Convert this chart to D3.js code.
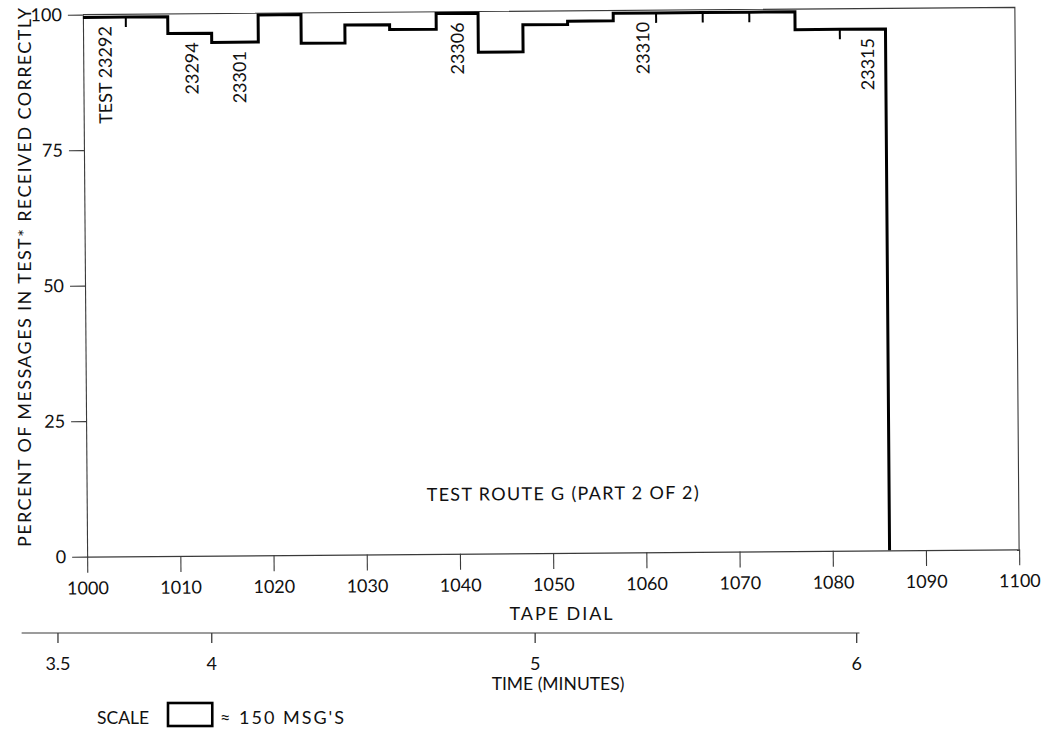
<!DOCTYPE html>
<html>
<head>
<meta charset="utf-8">
<script src="https://cdn.jsdelivr.net/npm/d3@7/dist/d3.min.js"></script>
<style>
  html, body { margin: 0; padding: 0; background: #fff; }
  svg { display: block; }
  text { font-family: Lato, "Open Sans", sans-serif; fill: #111; }
</style>
</head>
<body>
<svg id="chart" width="1046" height="730"></svg>
<script>
// Tape-dial reading where each test block starts, and where the last one ends
const tapeStart = [1000, 1004.6, 1009.1, 1013.8, 1018.8, 1023.4, 1028.1, 1032.9, 1037.9,
                   1042.4, 1047.2, 1052.0, 1056.9, 1061.5, 1066.5, 1071.5, 1076.4, 1081.2];
const tapeEnd = 1086.1;
// Percent of messages in each test block received correctly
const percentCorrect = [99.5, 99.5, 96.4, 94.7, 99.7, 94.4, 97.7, 96.8, 99.7,
                        92.5, 97.5, 98.1, 99.5, 99.5, 99.5, 99.5, 96.2, 96.2];
// Test numbers written above selected blocks
const testLabels = ["TEST 23292", "23294", "23301", "23306", "23310", "23315"];
const testLabelBlock = [0, 2, 3, 8, 12, 17];
const testLabelTape = [1002.3, 1011.6, 1016.7, 1040.1, 1060.0, 1084.1];
// Axis ticks
const percentTicks = [0, 25, 50, 75, 100];
const tapeTicks = [1000, 1010, 1020, 1030, 1040, 1050, 1060, 1070, 1080, 1090, 1100];
// Elapsed time (minutes) against tape-dial reading
const timeTicks = [3.5, 4, 5, 6];
const timeTickLabels = ["3.5", "4", "5", "6"];
const timeAtTape = [997.1, 1013.6, 1048.3, 1082.8];
const timeAxisTape = [993.2, 1083.1];
// Scale key: one box ≈ 150 messages, measured in tape-dial units
const scaleBoxTape = 4.75;
const scaleLabel = "\u2248 150 MSG'S";

const svg = d3.select("#chart");

const x = d3.scaleLinear().domain([1000, 1100]).range([85, 1017]);
const y = d3.scaleLinear().domain([0, 100]).range([553, 11]);

// plotted panel, drawn with a slight tilt
const panelTilt = -0.45;
const panel = svg.append("g").attr("transform", `rotate(${panelTilt}, 551, 283)`);

const frameColor = "#3a3a3a";
const fs = 18;

// Top and right frame lines
panel.append("path")
  .attr("d", `M${x(1000)},${y(100)}H${x(1100)}V${y(0)}`)
  .attr("fill", "none").attr("stroke", frameColor).attr("stroke-width", 1.1);

// Y axis
const yAxis = panel.append("g")
  .attr("transform", `translate(${x(1000)},0)`)
  .call(d3.axisLeft(y).tickValues(percentTicks).tickSize(15).tickSizeOuter(0).tickPadding(6));
yAxis.select(".domain").attr("stroke", frameColor).attr("stroke-width", 1.1);
yAxis.selectAll(".tick line").attr("stroke", frameColor).attr("stroke-width", 1.1);
yAxis.selectAll(".tick text").attr("font-size", fs).attr("font-family", "Lato, sans-serif").attr("fill", "#111");

// X axis (tape dial)
const xAxis = panel.append("g")
  .attr("transform", `translate(0,${y(0)})`)
  .call(d3.axisBottom(x).tickValues(tapeTicks).tickSize(16).tickSizeOuter(0).tickPadding(9)
        .tickFormat(d3.format("d")));
xAxis.select(".domain").attr("stroke", frameColor).attr("stroke-width", 1.1);
xAxis.selectAll(".tick line").attr("stroke", frameColor).attr("stroke-width", 1.1);
xAxis.selectAll(".tick text").attr("font-size", fs).attr("font-family", "Lato, sans-serif").attr("fill", "#111");

// Step trace of percent correct per test block, dropping to zero at the end
const pts = tapeStart.map((t, i) => [t, percentCorrect[i]]);
pts.push([tapeEnd, percentCorrect[percentCorrect.length - 1]]);
pts.push([tapeEnd, 0]);
panel.append("path")
  .datum(pts)
  .attr("d", d3.line().x(d => x(d[0])).y(d => y(d[1])).curve(d3.curveStepAfter))
  .attr("fill", "none").attr("stroke", "#000").attr("stroke-width", 3)
  .attr("stroke-linejoin", "miter");

// Short separator marks between neighbouring blocks with equal scores
tapeStart.forEach((t, i) => {
  if (i > 0 && percentCorrect[i] === percentCorrect[i - 1]) {
    panel.append("line")
      .attr("x1", x(t)).attr("x2", x(t))
      .attr("y1", y(percentCorrect[i])).attr("y2", y(percentCorrect[i]) + 10)
      .attr("stroke", "#000").attr("stroke-width", 2);
  }
});

// Test numbers, written upward beneath each labelled block
testLabels.forEach((lab, i) => {
  const top = y(percentCorrect[testLabelBlock[i]]) + 9;
  panel.append("text")
    .attr("transform", `translate(${x(testLabelTape[i])},${top}) rotate(-90)`)
    .attr("text-anchor", "end")
    .attr("dominant-baseline", "central")
    .attr("font-size", fs)
    .text(lab);
});

// Route caption inside the panel
panel.append("text")
  .attr("x", 425).attr("y", 493)
  .attr("dominant-baseline", "central")
  .attr("font-size", 18).attr("textLength", 272).attr("lengthAdjust", "spacing")
  .text("TEST ROUTE G (PART 2 OF 2)");

// Y axis title
svg.append("text")
  .attr("transform", "translate(24,277.5) rotate(-90)")
  .attr("text-anchor", "middle").attr("dominant-baseline", "central")
  .attr("font-size", fs).attr("textLength", 539).attr("lengthAdjust", "spacing")
  .text("PERCENT OF MESSAGES IN TEST* RECEIVED CORRECTLY");

// X axis title
svg.append("text")
  .attr("x", 561).attr("y", 613)
  .attr("text-anchor", "middle").attr("dominant-baseline", "central")
  .attr("font-size", fs).attr("textLength", 103).attr("lengthAdjust", "spacing")
  .text("TAPE DIAL");

// Time axis, placed against the tape-dial scale
const timeToTape = d3.scaleLinear().domain(timeTicks).range(timeAtTape);
const timeY = 633;
const timeG = svg.append("g");
timeG.append("line")
  .attr("x1", x(timeAxisTape[0])).attr("x2", x(timeAxisTape[1]))
  .attr("y1", timeY).attr("y2", timeY)
  .attr("stroke", frameColor).attr("stroke-width", 1.1);
timeTicks.forEach((t, i) => {
  const px = x(timeToTape(t));
  timeG.append("line")
    .attr("x1", px).attr("x2", px).attr("y1", timeY).attr("y2", timeY + 10)
    .attr("stroke", frameColor).attr("stroke-width", 1.3);
  timeG.append("text")
    .attr("x", px).attr("y", 663)
    .attr("text-anchor", "middle").attr("dominant-baseline", "central")
    .attr("font-size", fs)
    .text(timeTickLabels[i]);
});
svg.append("text")
  .attr("x", 558).attr("y", 683)
  .attr("text-anchor", "middle").attr("dominant-baseline", "central")
  .attr("font-size", 17.5)
  .text("TIME (MINUTES)");

// Scale key
svg.append("text")
  .attr("x", 97).attr("y", 717)
  .attr("dominant-baseline", "central")
  .attr("font-size", 17.5)
  .text("SCALE");
svg.append("rect")
  .attr("x", 168).attr("y", 703)
  .attr("width", x(1000 + scaleBoxTape) - x(1000)).attr("height", 23)
  .attr("fill", "none").attr("stroke", "#000").attr("stroke-width", 2.6);
svg.append("text")
  .attr("x", 220).attr("y", 717)
  .attr("dominant-baseline", "central")
  .attr("font-size", 18).attr("textLength", 124).attr("lengthAdjust", "spacing")
  .text(scaleLabel);
</script>
</body>
</html>
